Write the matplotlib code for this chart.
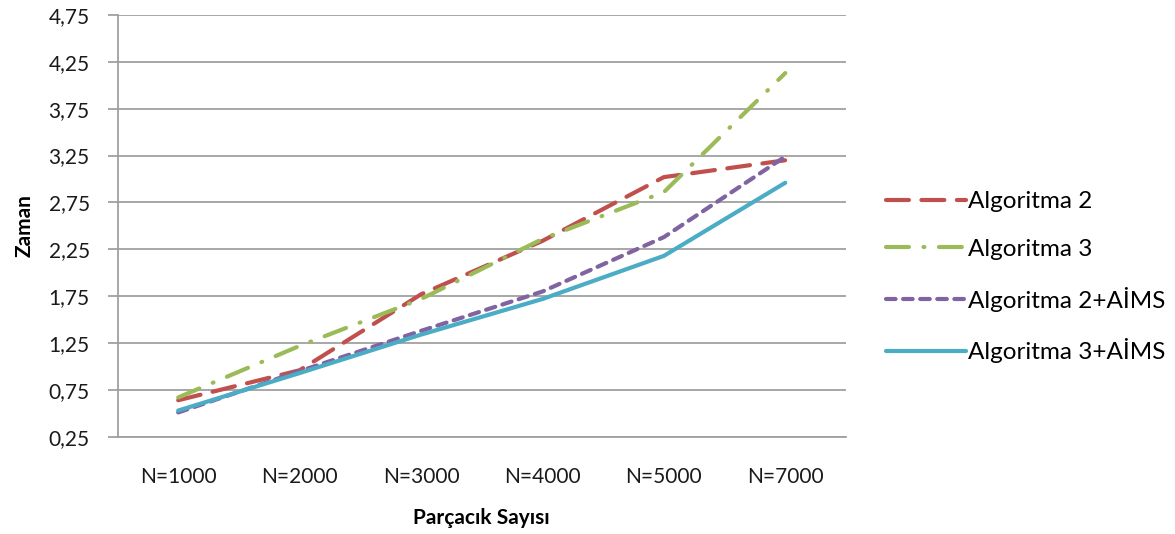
import matplotlib
matplotlib.use("Agg")
import matplotlib.pyplot as plt
import numpy as np

plt.rcParams['font.family'] = ['Lato', 'DejaVu Sans']

categories = ["N=1000", "N=2000", "N=3000", "N=4000", "N=5000", "N=7000"]
alg2 = [0.64, 0.96, 1.77, 2.34, 3.02, 3.20]
alg3 = [0.67, 1.22, 1.72, 2.36, 2.86, 4.13]
alg2_aims = [0.51, 0.95, 1.38, 1.80, 2.38, 3.24]
alg3_aims = [0.53, 0.93, 1.34, 1.72, 2.18, 2.96]
yticks = [0.25, 0.75, 1.25, 1.75, 2.25, 2.75, 3.25, 3.75, 4.25, 4.75]

fig = plt.figure(figsize=(11.75, 5.34), dpi=100)
ax = fig.add_axes([0.1, 0.182, 0.62, 0.79])

x = np.arange(len(categories))
lw = 3.0
ax.plot(x, alg2, color="#C0504D", lw=lw, dashes=(5.5, 3.0), label="Algoritma 2",
        dash_capstyle="round")
ax.plot(x, alg3, color="#9BBB59", lw=lw, dashes=(5.5, 3.5, 0.2, 3.5), label="Algoritma 3",
        dash_capstyle="round")
ax.plot(x, alg2_aims, color="#8064A2", lw=lw, dashes=(2.3, 1.8), label="Algoritma 2+AİMS",
        dash_capstyle="round")
ax.plot(x, alg3_aims, color="#4BACC6", lw=lw, label="Algoritma 3+AİMS",
        solid_capstyle="round")

ax.set_xlim(-0.5, len(categories) - 0.5)
ax.set_ylim(0.25, 4.75)
ax.set_yticks(yticks)
ax.set_yticklabels([f"{v:.2f}".replace(".", ",") for v in yticks])
ax.set_xticks(x)
ax.set_xticklabels(categories)

ax.grid(axis="y", color="#A0A0A0", lw=1.3)
ax.set_axisbelow(True)
for s in ("top", "right"):
    ax.spines[s].set_visible(False)
for s in ("left", "bottom"):
    ax.spines[s].set_color("#A0A0A0")
    ax.spines[s].set_linewidth(1.3)
ax.tick_params(axis="y", length=7, width=1.3, color="#A0A0A0", labelsize=15,
               labelcolor="#1a1a1a", pad=13)
ax.tick_params(axis="x", length=0, labelsize=15, labelcolor="#1a1a1a", pad=22)

ax.set_xlabel("Parçacık Sayısı", fontsize=15, fontweight="bold", labelpad=15)
ax.set_ylabel("Zaman", fontsize=15, fontweight="bold", labelpad=10)

ax.legend(loc="center left", bbox_to_anchor=(1.025, 0.378), frameon=False,
          fontsize=17.5, handlelength=3.3, labelspacing=1.1, handletextpad=0.08)

fig.savefig("out.png", dpi=100)
